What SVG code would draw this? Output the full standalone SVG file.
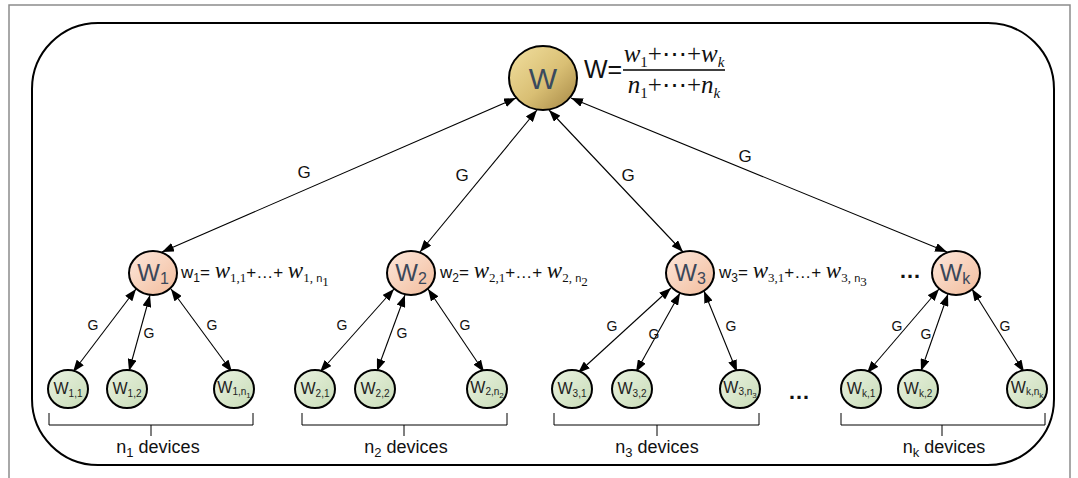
<svg xmlns="http://www.w3.org/2000/svg" width="1078" height="478" viewBox="0 0 1078 478">
<defs>
<linearGradient id="gTop" x1="0" y1="0" x2="1" y2="1">
<stop offset="0" stop-color="#f2e0a0"/><stop offset="0.55" stop-color="#d9bf74"/><stop offset="1" stop-color="#a48644"/>
</linearGradient>
<linearGradient id="gMid" x1="0" y1="0" x2="1" y2="1">
<stop offset="0" stop-color="#fde8dc"/><stop offset="1" stop-color="#f2bc9c"/>
</linearGradient>
<linearGradient id="gLeaf" x1="0" y1="0" x2="1" y2="1">
<stop offset="0" stop-color="#eaf2e2"/><stop offset="1" stop-color="#c8dcb6"/>
</linearGradient>
<marker id="ah" viewBox="0 0 12 9" refX="12" refY="4.5" markerWidth="12" markerHeight="9" markerUnits="userSpaceOnUse" orient="auto-start-reverse">
<path d="M0,0 L12,4.5 L0,9 z" fill="#000"/>
</marker>
<style>
.frame{fill:none;stroke:#8c8c8c;stroke-width:1.5}
.outer{fill:none;stroke:#000;stroke-width:2}
.conn line{stroke:#000;stroke-width:1.1;marker-start:url(#ah);marker-end:url(#ah)}
.top{fill:url(#gTop);stroke:#000;stroke-width:2}
.mid{fill:url(#gMid);stroke:#000;stroke-width:2}
.leaf{fill:url(#gLeaf);stroke:#000;stroke-width:2}
text{font-family:"Liberation Sans",Arial,sans-serif;fill:#111}
.lbl{font-size:24px;fill:#3b4759;text-anchor:middle}
.lbls{font-size:16px}
.lf{font-size:16px;fill:#222;text-anchor:middle}
.lfs{font-size:10px}
.lfss{font-size:8px}
.g1{font-size:17px;text-anchor:middle}
.g2{font-size:14px;text-anchor:middle}
.f{font-size:17px}
.s{font-size:12px}
.m{font-family:"Liberation Serif","DejaVu Serif",serif;font-style:italic;font-size:23px}
.ms{font-family:"Liberation Serif","DejaVu Serif",serif;font-size:13px}
.ss{font-size:11px}
.mt{font-family:"Liberation Serif","DejaVu Serif",serif;font-size:25px;text-anchor:middle}
.it{font-style:italic}
.dev{font-size:18px;text-anchor:middle}
.dots{font-size:22px;font-weight:bold;text-anchor:middle}
.brace{fill:none;stroke:#000;stroke-width:1}
</style>
</defs>
<path class="frame" d="M9,478 V5 H1070 V478"/>
<rect class="outer" x="32" y="23" width="1022" height="442" rx="66" ry="66"/>

<g id="connectors" class="conn">
<line x1="162" y1="252" x2="516" y2="98"/>
<line x1="420" y1="252" x2="537" y2="110"/>
<line x1="683" y1="252" x2="549" y2="110"/>
<line x1="947" y1="252" x2="571" y2="98"/>
<line x1="73" y1="372" x2="136" y2="289"/>
<line x1="129" y1="371" x2="150" y2="295"/>
<line x1="232" y1="372" x2="171" y2="289"/>
<line x1="320" y1="372" x2="394" y2="289"/>
<line x1="377" y1="371" x2="405" y2="295"/>
<line x1="484" y1="372" x2="428" y2="289"/>
<line x1="578" y1="373" x2="671" y2="288"/>
<line x1="636" y1="372" x2="680" y2="293"/>
<line x1="737" y1="372" x2="704" y2="291"/>
<line x1="867" y1="373" x2="939" y2="289"/>
<line x1="921" y1="371" x2="948" y2="294"/>
<line x1="1024" y1="372" x2="972" y2="289"/>
</g>

<g id="edge-labels">
<text class="g1" x="304" y="178">G</text>
<text class="g1" x="462" y="181">G</text>
<text class="g1" x="628" y="181">G</text>
<text class="g1" x="745" y="162">G</text>
<text class="g2" x="93" y="330">G</text>
<text class="g2" x="149" y="338">G</text>
<text class="g2" x="212" y="330">G</text>
<text class="g2" x="342" y="330">G</text>
<text class="g2" x="402" y="338">G</text>
<text class="g2" x="465" y="330">G</text>
<text class="g2" x="612" y="331">G</text>
<text class="g2" x="654" y="339">G</text>
<text class="g2" x="731" y="331">G</text>
<text class="g2" x="897" y="331">G</text>
<text class="g2" x="926" y="339">G</text>
<text class="g2" x="1005" y="331">G</text>
</g>

<g id="node-W">
<ellipse class="top" cx="543" cy="78" rx="34" ry="32"/>
<text x="543" y="89" style="font-size:30px;fill:#3a4a5e;text-anchor:middle">W</text>
<text x="584" y="78" style="font-size:25px">W=</text>
<text class="mt" x="674" y="62"><tspan class="it">w</tspan><tspan dy="5" style="font-size:15px">1</tspan><tspan dy="-5">+⋯+</tspan><tspan class="it">w</tspan><tspan dy="5" class="it" style="font-size:15px">k</tspan></text>
<line x1="623" y1="70" x2="725" y2="70" stroke="#000" stroke-width="1.5"/>
<text class="mt" x="674" y="93"><tspan class="it">n</tspan><tspan dy="5" style="font-size:15px">1</tspan><tspan dy="-5">+⋯+</tspan><tspan class="it">n</tspan><tspan dy="5" class="it" style="font-size:15px">k</tspan></text>
</g>

<g id="node-W1">
<ellipse class="mid" cx="153" cy="273" rx="24" ry="22"/>
<text class="lbl" x="153" y="281">W<tspan class="lbls" dy="3">1</tspan></text>
<text class="f" x="181" y="278">w<tspan class="s" dy="4">1</tspan><tspan dy="-4">= </tspan><tspan class="m">w</tspan><tspan class="ms" dy="4">1,1</tspan><tspan dy="-4">+…+ </tspan><tspan class="m">w</tspan><tspan class="ms" dy="4">1, </tspan><tspan class="ss">n</tspan><tspan class="ms" dy="4">1</tspan></text>
</g>
<g id="node-W2">
<ellipse class="mid" cx="411" cy="273" rx="24" ry="22"/>
<text class="lbl" x="411" y="281">W<tspan class="lbls" dy="3">2</tspan></text>
<text class="f" x="440" y="278">w<tspan class="s" dy="4">2</tspan><tspan dy="-4">= </tspan><tspan class="m">w</tspan><tspan class="ms" dy="4">2,1</tspan><tspan dy="-4">+…+ </tspan><tspan class="m">w</tspan><tspan class="ms" dy="4">2, </tspan><tspan class="ss">n</tspan><tspan class="ms" dy="4">2</tspan></text>
</g>
<g id="node-W3">
<ellipse class="mid" cx="690" cy="273" rx="24" ry="22"/>
<text class="lbl" x="690" y="281">W<tspan class="lbls" dy="3">3</tspan></text>
<text class="f" x="719" y="278">w<tspan class="s" dy="4">3</tspan><tspan dy="-4">= </tspan><tspan class="m">w</tspan><tspan class="ms" dy="4">3,1</tspan><tspan dy="-4">+…+ </tspan><tspan class="m">w</tspan><tspan class="ms" dy="4">3, </tspan><tspan class="ss">n</tspan><tspan class="ms" dy="4">3</tspan></text>
</g>
<text class="dots" x="910" y="278">…</text>
<g id="node-Wk">
<ellipse class="mid" cx="956" cy="273" rx="24" ry="22"/>
<text class="lbl" x="955" y="281">W<tspan class="lbls" dy="3">k</tspan></text>
</g>

<g id="leaf-1-1"><ellipse class="leaf" cx="68" cy="389" rx="20" ry="19"/><text class="lf" x="68" y="394">W<tspan class="lfs" dy="3">1,1</tspan></text></g>
<g id="leaf-1-2"><ellipse class="leaf" cx="127" cy="389" rx="20" ry="19"/><text class="lf" x="127" y="394">W<tspan class="lfs" dy="3">1,2</tspan></text></g>
<g id="leaf-1-n"><ellipse class="leaf" cx="234" cy="389" rx="20" ry="19"/><text class="lf" x="234" y="393">W<tspan class="lfs" dy="2">1,n</tspan><tspan class="lfss" dy="3">1</tspan></text></g>
<g id="leaf-2-1"><ellipse class="leaf" cx="315" cy="389" rx="20" ry="19"/><text class="lf" x="315" y="394">W<tspan class="lfs" dy="3">2,1</tspan></text></g>
<g id="leaf-2-2"><ellipse class="leaf" cx="375" cy="389" rx="20" ry="19"/><text class="lf" x="375" y="394">W<tspan class="lfs" dy="3">2,2</tspan></text></g>
<g id="leaf-2-n"><ellipse class="leaf" cx="487" cy="389" rx="20" ry="19"/><text class="lf" x="487" y="393">W<tspan class="lfs" dy="2">2,n</tspan><tspan class="lfss" dy="3">2</tspan></text></g>
<g id="leaf-3-1"><ellipse class="leaf" cx="572" cy="389" rx="20" ry="19"/><text class="lf" x="572" y="394">W<tspan class="lfs" dy="3">3,1</tspan></text></g>
<g id="leaf-3-2"><ellipse class="leaf" cx="632" cy="389" rx="20" ry="19"/><text class="lf" x="632" y="394">W<tspan class="lfs" dy="3">3,2</tspan></text></g>
<g id="leaf-3-n"><ellipse class="leaf" cx="740" cy="389" rx="20" ry="19"/><text class="lf" x="740" y="393">W<tspan class="lfs" dy="2">3,n</tspan><tspan class="lfss" dy="3">3</tspan></text></g>
<text class="dots" x="799" y="399">…</text>
<g id="leaf-k-1"><ellipse class="leaf" cx="861" cy="389" rx="20" ry="19"/><text class="lf" x="861" y="394">W<tspan class="lfs" dy="3">k,1</tspan></text></g>
<g id="leaf-k-2"><ellipse class="leaf" cx="918" cy="389" rx="20" ry="19"/><text class="lf" x="918" y="394">W<tspan class="lfs" dy="3">k,2</tspan></text></g>
<g id="leaf-k-n"><ellipse class="leaf" cx="1027" cy="389" rx="20" ry="19"/><text class="lf" x="1027" y="393">W<tspan class="lfs" dy="2">k,n</tspan><tspan class="lfss" dy="3">k</tspan></text></g>

<g id="braces">
<path class="brace" d="M49,413 V425 H253 V413 M151,425 V436"/>
<path class="brace" d="M302,413 V425 H507 V413 M404,425 V436"/>
<path class="brace" d="M554,413 V425 H759 V413 M657,425 V436"/>
<path class="brace" d="M841,413 V425 H1045 V413 M942,425 V436"/>
<text class="dev" x="158" y="453">n<tspan style="font-size:13px" dy="4">1</tspan><tspan dy="-4"> devices</tspan></text>
<text class="dev" x="406" y="453">n<tspan style="font-size:13px" dy="4">2</tspan><tspan dy="-4"> devices</tspan></text>
<text class="dev" x="657" y="453">n<tspan style="font-size:13px" dy="4">3</tspan><tspan dy="-4"> devices</tspan></text>
<text class="dev" x="944" y="453">n<tspan style="font-size:13px" dy="4">k</tspan><tspan dy="-4"> devices</tspan></text>
</g>
</svg>
